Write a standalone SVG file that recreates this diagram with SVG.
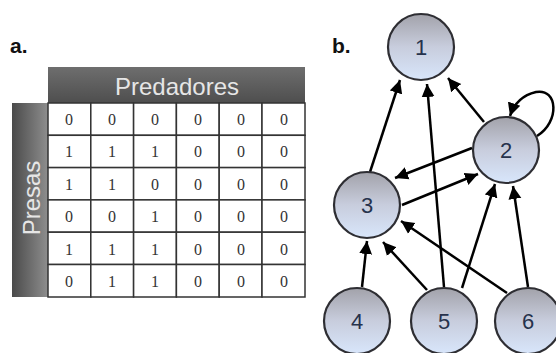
<svg xmlns="http://www.w3.org/2000/svg" width="556" height="353" viewBox="0 0 556 353">
<style>
.lbl{font-family:"Liberation Sans",Arial,sans-serif;font-weight:bold;font-size:21px;fill:#111}
.hdr{font-family:"Liberation Sans",Arial,sans-serif;font-size:24px;fill:#e6e6e6;text-anchor:middle}
.cell{fill:#fff;stroke:#333;stroke-width:1.5}
.num{font-family:"Liberation Serif","Times New Roman",serif;font-size:16px;fill:#333;text-anchor:middle}
.node circle{fill:url(#ng);stroke:#2e2e33;stroke-width:2.2}
.node text{font-family:"Liberation Sans",Arial,sans-serif;font-size:22px;fill:#26324c;text-anchor:middle}
.edge{fill:none;stroke:#000;stroke-width:2.5;marker-end:url(#ah)}
</style>
<defs>
<linearGradient id="ng" x1="0" y1="0" x2="0" y2="1">
<stop offset="0" stop-color="#a2a2aa"/>
<stop offset="0.5" stop-color="#c8cddd"/>
<stop offset="1" stop-color="#d8e6fb"/>
</linearGradient>
<linearGradient id="hg" x1="0" y1="0" x2="0" y2="1">
<stop offset="0" stop-color="#6e6e6e"/>
<stop offset="1" stop-color="#4e4e4e"/>
</linearGradient>
<linearGradient id="vg" x1="0" y1="0" x2="1" y2="0">
<stop offset="0" stop-color="#4a4a4a"/>
<stop offset="1" stop-color="#8e8e8e"/>
</linearGradient>
<marker id="ah" markerUnits="userSpaceOnUse" markerWidth="14" markerHeight="14" refX="13" refY="7" orient="auto">
<path d="M0,0.5 L13,7 L0,13.5 z" fill="#000"/>
</marker>
</defs>
<rect width="556" height="353" fill="#fff"/>
<text class="lbl" x="10" y="53">a.</text>
<text class="lbl" x="332" y="53">b.</text>
<g id="table">
<rect x="48" y="67" width="257" height="36" fill="url(#hg)"/>
<text class="hdr" x="177" y="95">Predadores</text>
<rect x="12" y="103" width="36" height="194" fill="url(#vg)"/>
<text class="hdr" transform="translate(40,198) rotate(-90)" x="0" y="0">Presas</text>
<g id="grid">
<rect class="cell" x="48" y="103" width="42.8" height="32.3"/><rect class="cell" x="90.8" y="103" width="42.8" height="32.3"/><rect class="cell" x="133.6" y="103" width="42.8" height="32.3"/><rect class="cell" x="176.4" y="103" width="42.8" height="32.3"/><rect class="cell" x="219.2" y="103" width="42.8" height="32.3"/><rect class="cell" x="262" y="103" width="43" height="32.3"/>
<rect class="cell" x="48" y="135.3" width="42.8" height="32.3"/><rect class="cell" x="90.8" y="135.3" width="42.8" height="32.3"/><rect class="cell" x="133.6" y="135.3" width="42.8" height="32.3"/><rect class="cell" x="176.4" y="135.3" width="42.8" height="32.3"/><rect class="cell" x="219.2" y="135.3" width="42.8" height="32.3"/><rect class="cell" x="262" y="135.3" width="43" height="32.3"/>
<rect class="cell" x="48" y="167.6" width="42.8" height="32.3"/><rect class="cell" x="90.8" y="167.6" width="42.8" height="32.3"/><rect class="cell" x="133.6" y="167.6" width="42.8" height="32.3"/><rect class="cell" x="176.4" y="167.6" width="42.8" height="32.3"/><rect class="cell" x="219.2" y="167.6" width="42.8" height="32.3"/><rect class="cell" x="262" y="167.6" width="43" height="32.3"/>
<rect class="cell" x="48" y="199.9" width="42.8" height="32.3"/><rect class="cell" x="90.8" y="199.9" width="42.8" height="32.3"/><rect class="cell" x="133.6" y="199.9" width="42.8" height="32.3"/><rect class="cell" x="176.4" y="199.9" width="42.8" height="32.3"/><rect class="cell" x="219.2" y="199.9" width="42.8" height="32.3"/><rect class="cell" x="262" y="199.9" width="43" height="32.3"/>
<rect class="cell" x="48" y="232.2" width="42.8" height="32.3"/><rect class="cell" x="90.8" y="232.2" width="42.8" height="32.3"/><rect class="cell" x="133.6" y="232.2" width="42.8" height="32.3"/><rect class="cell" x="176.4" y="232.2" width="42.8" height="32.3"/><rect class="cell" x="219.2" y="232.2" width="42.8" height="32.3"/><rect class="cell" x="262" y="232.2" width="43" height="32.3"/>
<rect class="cell" x="48" y="264.5" width="42.8" height="32.5"/><rect class="cell" x="90.8" y="264.5" width="42.8" height="32.5"/><rect class="cell" x="133.6" y="264.5" width="42.8" height="32.5"/><rect class="cell" x="176.4" y="264.5" width="42.8" height="32.5"/><rect class="cell" x="219.2" y="264.5" width="42.8" height="32.5"/><rect class="cell" x="262" y="264.5" width="43" height="32.5"/>
</g>
<g id="values">
<text class="num" y="124.5"><tspan x="69">0</tspan><tspan x="112">0</tspan><tspan x="155">0</tspan><tspan x="198">0</tspan><tspan x="241">0</tspan><tspan x="284">0</tspan></text>
<text class="num" y="157"><tspan x="69">1</tspan><tspan x="112">1</tspan><tspan x="155">1</tspan><tspan x="198">0</tspan><tspan x="241">0</tspan><tspan x="284">0</tspan></text>
<text class="num" y="189.5"><tspan x="69">1</tspan><tspan x="112">1</tspan><tspan x="155">0</tspan><tspan x="198">0</tspan><tspan x="241">0</tspan><tspan x="284">0</tspan></text>
<text class="num" y="222"><tspan x="69">0</tspan><tspan x="112">0</tspan><tspan x="155">1</tspan><tspan x="198">0</tspan><tspan x="241">0</tspan><tspan x="284">0</tspan></text>
<text class="num" y="254.5"><tspan x="69">1</tspan><tspan x="112">1</tspan><tspan x="155">1</tspan><tspan x="198">0</tspan><tspan x="241">0</tspan><tspan x="284">0</tspan></text>
<text class="num" y="286.5"><tspan x="69">0</tspan><tspan x="112">1</tspan><tspan x="155">1</tspan><tspan x="198">0</tspan><tspan x="241">0</tspan><tspan x="284">0</tspan></text>
</g>
</g>
<g id="connectors">
<path class="edge" d="M370,172 L400,80"/>
<path class="edge" d="M444,287 L427,84"/>
<path class="edge" d="M484,122 L448,78"/>
<path class="edge" d="M537,136 C560,122 558,88 536,92 C523,95 514,104 510,116"/>
<path class="edge" d="M472,148 L395,178"/>
<path class="edge" d="M402,205 L478,174"/>
<path class="edge" d="M362,287 L367,241"/>
<path class="edge" d="M427,290 L383,242"/>
<path class="edge" d="M507,293 L401,221"/>
<path class="edge" d="M462,288 L495,184"/>
<path class="edge" d="M528,287 L513,186"/>
</g>
<g id="n1" class="node"><circle cx="421" cy="47" r="33"/><text x="421" y="55">1</text></g>
<g id="n2" class="node"><circle cx="506" cy="150" r="33"/><text x="506" y="158">2</text></g>
<g id="n3" class="node"><circle cx="367" cy="205" r="33"/><text x="367" y="213">3</text></g>
<g id="n4" class="node"><circle cx="357" cy="321" r="33"/><text x="357" y="329">4</text></g>
<g id="n5" class="node"><circle cx="444" cy="321" r="33"/><text x="444" y="329">5</text></g>
<g id="n6" class="node"><circle cx="528" cy="321" r="33"/><text x="528" y="329">6</text></g>
</svg>
